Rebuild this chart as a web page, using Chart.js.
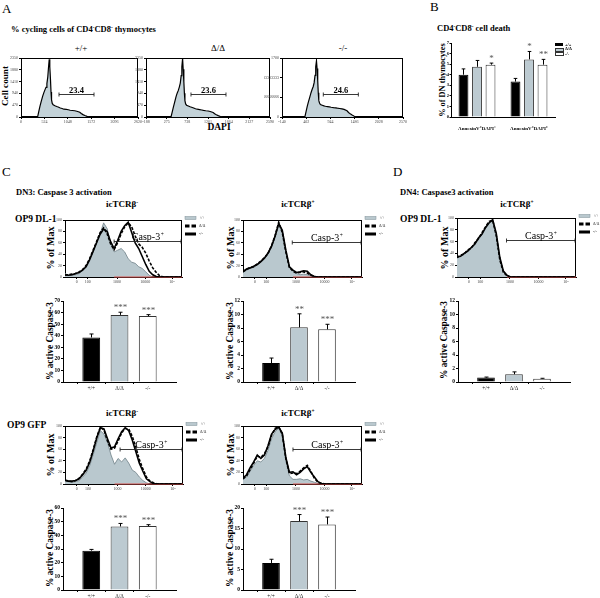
<!DOCTYPE html>
<html>
<head>
<meta charset="utf-8">
<script src="https://cdn.jsdelivr.net/npm/chart.js@4.4.0/dist/chart.umd.min.js"></script>
<style>
body{margin:0;background:#fff;width:600px;height:598px;position:relative;overflow:hidden;font-family:"Liberation Serif","Times New Roman",serif;color:#000}
canvas{position:absolute}
.t{position:absolute;white-space:nowrap;line-height:1}
.b{font-weight:bold}
.c{transform:translateX(-50%)}
.r{transform:translate(-50%,-50%) rotate(-90deg)}
sup{font-size:60%;vertical-align:0.5em;line-height:0}
</style>
</head>
<body>
<!-- panel A -->
<div class="t" style="left:2px;top:2px;font-size:13px">A</div>
<div class="t b" style="left:11px;top:25px;font-size:8.5px">% cycling cells of CD4<sup>-</sup>CD8<sup>-</sup> thymocytes</div>
<div class="t c" style="left:81px;top:44px;font-size:9px">+/+</div>
<div class="t c" style="left:218px;top:44px;font-size:9px">Δ/Δ</div>
<div class="t c" style="left:343px;top:44px;font-size:9px">-/-</div>
<div class="t b r" style="left:6px;top:86px;font-size:9.2px">Cell count</div>
<div class="t b c" style="left:219px;top:123px;font-size:9.5px">DAPI</div>
<!-- panel B -->
<div class="t" style="left:430px;top:0px;font-size:13px">B</div>
<div class="t b" style="left:437px;top:24px;font-size:8.5px">CD4<sup>-</sup>CD8<sup>-</sup> cell death</div>
<div class="t b r" style="left:443px;top:80px;font-size:8.3px">% of DN thymocytes</div>
<!-- panel C -->
<div class="t" style="left:2px;top:165px;font-size:13px">C</div>
<div class="t b" style="left:16px;top:188px;font-size:8.5px">DN3: Caspase 3 activation</div>
<div class="t b c" style="left:122px;top:200px;font-size:9px">icTCRβ<sup>-</sup></div>
<div class="t b c" style="left:298px;top:200px;font-size:9px">icTCRβ<sup>+</sup></div>
<div class="t b" style="left:15px;top:215px;font-size:9.5px">OP9 DL-1</div>
<div class="t b r" style="left:51px;top:248px;font-size:10px">% of Max</div>
<div class="t b r" style="left:231px;top:248px;font-size:10px">% of Max</div>
<div class="t b r" style="left:51px;top:341px;font-size:9.4px">% active Caspase-3</div>
<div class="t b r" style="left:231px;top:341px;font-size:9.4px">% active Caspase-3</div>
<div class="t b c" style="left:122px;top:409px;font-size:9px">icTCRβ<sup>-</sup></div>
<div class="t b c" style="left:298px;top:409px;font-size:9px">icTCRβ<sup>+</sup></div>
<div class="t b" style="left:7px;top:421px;font-size:9.5px">OP9 GFP</div>
<div class="t b r" style="left:51px;top:455px;font-size:10px">% of Max</div>
<div class="t b r" style="left:231px;top:455px;font-size:10px">% of Max</div>
<div class="t b r" style="left:51px;top:548px;font-size:9.4px">% active Caspase-3</div>
<div class="t b r" style="left:231px;top:548px;font-size:9.4px">% active Caspase-3</div>
<!-- panel D -->
<div class="t" style="left:393px;top:165px;font-size:13px">D</div>
<div class="t b" style="left:400px;top:188px;font-size:8.5px">DN4: Caspase3 activation</div>
<div class="t b c" style="left:517px;top:200px;font-size:9px">icTCRβ<sup>+</sup></div>
<div class="t b" style="left:400px;top:215px;font-size:9.5px">OP9 DL-1</div>
<div class="t b r" style="left:445px;top:248px;font-size:10px">% of Max</div>
<div class="t b r" style="left:445px;top:340px;font-size:9.4px">% active Caspase-3</div>

<script>
const F = '"Liberation Serif", "Times New Roman", serif';
const FILL = '#b9c8ce';
const GREY_BAR = '#bccad1';

const genotypes = ['+/+', 'Δ/Δ', '-/-'];

// A: DAPI histograms (cell count per DAPI channel)
const dapiX = [0, 372, 400, 424, 450, 484, 510, 536, 560, 580, 600, 615, 632, 645, 660, 672, 684, 700, 720, 760, 800, 832, 880, 920, 960, 1014, 1060, 1100, 1150, 1204, 1250, 1316, 1350, 1388, 1430, 1479, 1534, 2700];
const dapiWt = [0, 0, 230, 420, 600, 820, 960, 1080, 1180, 1330, 1600, 1950, 2300, 2000, 1500, 1000, 680, 540, 490, 450, 420, 400, 360, 340, 310, 300, 290, 270, 260, 250, 230, 190, 140, 95, 60, 25, 0, 0];
const dapiDd = [0, 0, 200, 380, 560, 800, 950, 1060, 1200, 1350, 1650, 2000, 2330, 1900, 1400, 950, 650, 520, 470, 440, 410, 390, 360, 330, 310, 295, 280, 265, 250, 240, 220, 180, 130, 90, 55, 20, 0, 0];
const dapiKo = [0, 0, 160, 300, 430, 580, 700, 800, 880, 990, 1200, 1450, 1620, 1400, 1050, 700, 480, 400, 360, 340, 320, 310, 300, 290, 280, 270, 265, 255, 245, 235, 220, 180, 130, 90, 55, 20, 0, 0];
const cyclingPct = ['23.4', '23.6', '24.6'];
const cyclingGateStart = [851, 820, 785];
const cyclingGateEnd = [1635, 1604, 1570];
const cyclingGateLevel = [905, 905, 654];

// B: cell death
const annexLabels = ['AnnexinV⁺DAPI⁻', 'AnnexinV⁺DAPI⁺'];
const deathWt = [4.0, 3.35];
const deathDd = [4.75, 5.45];
const deathKo = [4.95, 4.95];
const deathWtErr = [0.55, 0.3];
const deathDdErr = [0.6, 0.75];
const deathKoErr = [0.15, 0.5];
const deathWtStars = ['', ''];
const deathDdStars = ['', '*'];
const deathKoStars = ['*', '**'];

// C/D: Caspase-3 histograms (% of max per fluorescence channel)
const chanGrid = [0, 3, 6, 9, 12, 15, 18, 21, 24, 27, 30, 33, 36, 39, 42, 45, 48, 51, 54, 57, 60, 63, 66, 69, 72, 75, 78, 81, 84, 87, 90, 93, 96, 99];
const logTickChan = [10, 19.5, 44.5, 68.5, 91.5];
const logTickText = ['0', '100', '1000', '10000', '10⁵'];
const isoChan = [42, 100];
const isoVal = [0, 0];

const dl1NegWt = [6, 3, 3, 4, 6, 11, 19, 32, 44, 62, 76, 95, 85, 59, 44, 47, 50, 44, 32, 26, 24, 18, 15, 9, 3, 0, 0, 0, 0, 0, 0, 0, 0, 0];
const dl1NegDd = [3, 4, 5, 6, 9, 13, 20, 32, 47, 62, 78, 86, 76, 58, 48, 60, 76, 88, 95, 88, 72, 58, 52, 42, 28, 16, 8, 2, 0, 0, 0, 0, 0, 0];
const dl1NegKo = [4, 3, 4, 6, 8, 12, 18, 30, 45, 60, 75, 84, 80, 62, 50, 64, 80, 90, 96, 78, 60, 50, 36, 22, 10, 4, 1, 0, 0, 0, 0, 0, 0, 0];

const dl1PosWt = [8, 12, 15, 17, 22, 26, 32, 40, 52, 70, 92, 80, 45, 16, 10, 6, 4, 5, 4, 2, 1, 0, 0, 0, 0, 0, 0, 0, 0, 0, 0, 0, 0, 0];
const dl1PosDd = [10, 13, 17, 18, 23, 28, 34, 41, 55, 73, 96, 78, 44, 17, 10, 7, 8, 9, 7, 3, 1, 0, 0, 0, 0, 0, 0, 0, 0, 0, 0, 0, 0, 0];
const dl1PosKo = [9, 14, 16, 19, 22, 27, 33, 42, 54, 72, 94, 82, 47, 18, 12, 8, 9, 11, 10, 4, 1, 0, 0, 0, 0, 0, 0, 0, 0, 0, 0, 0, 0, 0];

const gfpNegWt = [6, 4, 3, 4, 6, 12, 19, 32, 51, 72, 92, 86, 72, 50, 34, 44, 38, 45, 36, 24, 20, 12, 6, 2, 0, 0, 0, 0, 0, 0, 0, 0, 0, 0];
const gfpNegDd = [6, 5, 4, 6, 10, 17, 26, 40, 60, 82, 98, 93, 74, 60, 62, 74, 88, 96, 95, 82, 64, 42, 26, 12, 5, 2, 0, 0, 0, 0, 0, 0, 0, 0];
const gfpNegKo = [7, 5, 5, 6, 9, 16, 24, 38, 58, 80, 97, 95, 78, 62, 64, 78, 90, 97, 92, 76, 56, 36, 22, 9, 4, 1, 0, 0, 0, 0, 0, 0, 0, 0];

const gfpPosWt = [8, 12, 22, 32, 40, 38, 44, 58, 78, 90, 96, 84, 40, 14, 8, 8, 9, 7, 8, 5, 3, 1, 0, 0, 0, 0, 0, 0, 0, 0, 0, 0, 0, 0];
const gfpPosDd = [9, 14, 25, 36, 48, 46, 52, 64, 84, 96, 99, 86, 44, 18, 19, 18, 22, 28, 32, 22, 10, 3, 1, 0, 0, 0, 0, 0, 0, 0, 0, 0, 0, 0];
const gfpPosKo = [10, 16, 28, 38, 50, 44, 50, 66, 86, 94, 98, 88, 46, 20, 21, 16, 20, 26, 30, 20, 12, 4, 1, 0, 0, 0, 0, 0, 0, 0, 0, 0, 0, 0];

const dn4Wt = [32, 36, 38, 43, 48, 55, 63, 72, 82, 91, 95, 72, 30, 9, 2, 0, 0, 0, 0, 0, 0, 0, 0, 0, 0, 0, 0, 0, 0, 0, 0, 0, 0, 0];
const dn4Dd = [33, 37, 39, 46, 49, 58, 65, 75, 85, 94, 96, 70, 29, 8, 2, 0, 0, 0, 0, 0, 0, 0, 0, 0, 0, 0, 0, 0, 0, 0, 0, 0, 0, 0];
const dn4Ko = [34, 35, 40, 44, 50, 56, 66, 73, 84, 92, 97, 74, 33, 10, 3, 0, 0, 0, 0, 0, 0, 0, 0, 0, 0, 0, 0, 0, 0, 0, 0, 0, 0, 0];

// Casp-3+ gates: [start channel, end channel, level %]
const gateDl1Neg = [42, 100, 64];
const gateDl1Pos = [41.4, 100, 62];
const gateGfpNeg = [46.7, 100, 61];
const gateGfpPos = [42, 100, 60];
const gateDn4 = [41.6, 100, 62];

// active caspase-3 bars
const dl1NegCasp = [38.5, 58, 57];
const dl1NegErr = [3, 2.3, 1.2];
const dl1NegStars = ['', '***', '***'];
const dl1PosCasp = [2.8, 8.1, 7.8];
const dl1PosErr = [0.75, 2, 0.75];
const dl1PosStars = ['', '**', '***'];
const gfpNegCasp = [28.8, 46.5, 46.8];
const gfpNegErr = [0.9, 2.2, 1];
const gfpNegStars = ['', '***', '***'];
const gfpPosCasp = [6.6, 16.8, 16.0];
const gfpPosErr = [0.9, 1.6, 1.8];
const gfpPosStars = ['', '***', '***'];
const dn4Casp = [0.65, 1.15, 0.5];
const dn4Err = [0.08, 0.35, 0.05];
const dn4Stars = ['', '', ''];

const extras = {};

const histExtras = {
    id: 'histExtras',
    beforeDatasetsDraw(chart) {
        const a = chart.chartArea, ctx = chart.ctx;
        ctx.save();
        ctx.strokeStyle = '#000';
        ctx.lineWidth = 1;
        ctx.strokeRect(a.left + 0.5, a.top + 0.5, a.right - a.left - 1, a.bottom - a.top - 1);
        ctx.restore();
    },
    afterDatasetsDraw(chart) {
        const o = extras[chart.canvas.id];
        if (!o) return;
        const a = chart.chartArea, ctx = chart.ctx, xs = chart.scales.x, ys = chart.scales.y;
        ctx.save();
        if (o.gate) {
            const x1 = xs.getPixelForValue(o.gate[0]);
            const x2 = Math.min(xs.getPixelForValue(o.gate[1]), a.right - 1);
            const y = Math.round(ys.getPixelForValue(o.gate[2])) + 0.5;
            ctx.strokeStyle = '#222';
            ctx.lineWidth = 0.9;
            ctx.beginPath();
            ctx.moveTo(x1, y); ctx.lineTo(x2, y);
            ctx.moveTo(x1, y - 2); ctx.lineTo(x1, y + 2);
            ctx.moveTo(x2, y - 2); ctx.lineTo(x2, y + 2);
            ctx.stroke();
            ctx.fillStyle = '#000';
            ctx.textBaseline = 'alphabetic';
            ctx.font = o.labelFont;
            const w = ctx.measureText(o.label).width;
            let supW = 0;
            if (o.sup) { ctx.font = o.supFont; supW = ctx.measureText(o.sup).width; }
            const left = (x1 + x2) / 2 + (o.shift || 0) - (w + supW) / 2;
            ctx.font = o.labelFont;
            ctx.fillText(o.label, left, y - 2);
            if (o.sup) { ctx.font = o.supFont; ctx.fillText(o.sup, left + w + 0.5, y - 6); }
        }
        if (o.legend) {
            const lx = a.right + 3;
            const rows = [a.top - 2, a.top + 6, a.top + 14];
            ctx.fillStyle = FILL;
            ctx.fillRect(lx, rows[0] - 1.5, 11, 3);
            ctx.strokeStyle = '#7f9098';
            ctx.lineWidth = 0.5;
            ctx.strokeRect(lx, rows[0] - 1.5, 11, 3);
            ctx.fillStyle = '#000';
            ctx.fillRect(lx, rows[1] - 1.5, 4.5, 3);
            ctx.fillRect(lx + 6.5, rows[1] - 1.5, 4.5, 3);
            ctx.fillRect(lx, rows[2] - 1.5, 11, 3);
            ctx.font = '4px ' + F;
            ctx.fillStyle = '#333';
            ctx.textBaseline = 'middle';
            genotypes.forEach((g, i) => ctx.fillText(g, lx + 14, rows[i]));
        }
        ctx.restore();
    }
};

const barExtras = {
    id: 'barExtras',
    afterDatasetsDraw(chart) {
        const o = extras[chart.canvas.id];
        if (!o) return;
        const ctx = chart.ctx, ys = chart.scales.y;
        ctx.save();
        chart.data.datasets.forEach((ds, di) => {
            chart.getDatasetMeta(di).data.forEach((bar, i) => {
                const v = ds.data[i];
                if (v == null) return;
                const e = o.errors[di][i], s = o.stars[di][i];
                const yTop = ys.getPixelForValue(v + e);
                const x = Math.round(bar.x) + 0.5;
                ctx.strokeStyle = '#000';
                ctx.lineWidth = 1;
                ctx.beginPath();
                ctx.moveTo(x, bar.y); ctx.lineTo(x, yTop);
                ctx.moveTo(x - o.cap, yTop); ctx.lineTo(x + o.cap, yTop);
                ctx.stroke();
                if (s) {
                    ctx.font = o.starFont;
                    ctx.fillStyle = '#555';
                    ctx.textAlign = 'center';
                    ctx.textBaseline = 'alphabetic';
                    ctx.fillText(s, x, yTop - 2);
                }
            });
        });
        ctx.restore();
    }
};

function pts(xs, ys) {
    return xs.map((x, i) => ({ x: x, y: ys[i] }));
}

function mount(id, box, pad) {
    const cv = document.createElement('canvas');
    cv.id = id;
    cv.width = box[2] - box[0] + pad.l + pad.r;
    cv.height = box[3] - box[1] + pad.t + pad.b;
    cv.style.left = (box[0] - pad.l) + 'px';
    cv.style.top = (box[1] - pad.t) + 'px';
    document.body.appendChild(cv);
    return cv;
}

// tiny FACS-style axis, extra settings merged in without losing the font
function tinyAxis(pad, isX, cfg) {
    const axis = {
        type: 'linear',
        grid: { drawOnChartArea: false, drawTicks: true, tickLength: 2, color: '#000' },
        border: { display: true, color: '#000', width: 1 },
        ticks: { font: { size: 4, family: F }, color: '#444', padding: 1, maxRotation: 0, autoSkip: false, callback: (v) => String(v) },
        afterFit: isX ? (s) => { s.height = pad.b; } : (s) => { s.width = pad.l; }
    };
    Object.keys(cfg).forEach(k => {
        if (k === 'ticks') Object.assign(axis.ticks, cfg.ticks);
        else axis[k] = cfg[k];
    });
    return axis;
}

function histChart(id, box, xCfg, yCfg, datasets, extra) {
    const pad = { l: 18, t: 10, r: 30, b: 10 };
    const cv = mount(id, box, pad);
    extras[id] = extra;
    return new Chart(cv, {
        type: 'line',
        data: { datasets: datasets },
        options: {
            responsive: false,
            animation: false,
            devicePixelRatio: 1,
            layout: { padding: { left: 0, top: pad.t, right: pad.r, bottom: 0 } },
            elements: { point: { radius: 0 }, line: { tension: 0 } },
            scales: { x: tinyAxis(pad, true, xCfg), y: tinyAxis(pad, false, yCfg) },
            plugins: { legend: { display: false }, tooltip: { enabled: false } }
        },
        plugins: [histExtras]
    });
}

function caspDatasets(wt, dd, ko) {
    return [
        { label: '-/-', data: pts(chanGrid, ko), borderColor: '#000', borderWidth: 1.6, fill: false, order: 0 },
        { label: 'Δ/Δ', data: pts(chanGrid, dd), borderColor: '#000', borderWidth: 1.6, borderDash: [3, 1.5], fill: false, order: 1 },
        { label: 'iso', data: pts(isoChan, isoVal), borderColor: '#d9534f', borderWidth: 1.2, fill: false, clip: false, order: 2 },
        { label: '+/+', data: pts(chanGrid, wt), borderColor: '#6f8088', borderWidth: 0.8, backgroundColor: FILL, fill: 'origin', order: 3 }
    ];
}

function caspHist(id, box, wt, dd, ko, gate) {
    const xCfg = {
        min: 0, max: 100,
        afterBuildTicks: (s) => { s.ticks = logTickChan.map(v => ({ value: v })); },
        ticks: { callback: (v, i) => logTickText[i] }
    };
    const yCfg = { min: 0, max: 100, ticks: { stepSize: 20 } };
    histChart(id, box, xCfg, yCfg, caspDatasets(wt, dd, ko), {
        gate: gate, label: 'Casp-3', sup: '+',
        labelFont: '10px ' + F, supFont: '5.5px ' + F, legend: true
    });
}

function dapiHist(id, box, series, xMin, xMax, yMax, i) {
    histChart(id, box,
        { min: xMin, max: xMax, ticks: { stepSize: 500 } },
        { min: 0, max: yMax, ticks: { stepSize: 500 } },
        [{ label: genotypes[i], data: pts(dapiX, series), borderColor: '#000', borderWidth: 1.2, backgroundColor: '#c3d2d8', fill: 'origin' }],
        { gate: [cyclingGateStart[i], cyclingGateEnd[i], cyclingGateLevel[i]], label: cyclingPct[i], labelFont: 'bold 8.5px ' + F, legend: false });
}

function caspBars(id, box, vals, errs, stars, yMax, yStep) {
    const pad = { l: 20, t: 14, r: 8, b: 12 };
    const cv = mount(id, box, pad);
    extras[id] = { errors: [[null].concat(errs, [null])], stars: [[''].concat(stars, [''])], cap: 2, starFont: '9px ' + F };
    new Chart(cv, {
        type: 'bar',
        data: {
            labels: [''].concat(genotypes, ['']),
            datasets: [{
                data: [null].concat(vals, [null]),
                backgroundColor: ['rgba(0,0,0,0)', '#000', GREY_BAR, '#fff', 'rgba(0,0,0,0)'],
                borderColor: ['rgba(0,0,0,0)', '#000', '#333', '#333', 'rgba(0,0,0,0)'],
                borderWidth: 1,
                categoryPercentage: 1,
                barPercentage: 0.63
            }]
        },
        options: {
            responsive: false,
            animation: false,
            devicePixelRatio: 1,
            layout: { padding: { left: 0, top: pad.t, right: pad.r, bottom: 0 } },
            scales: {
                x: {
                    type: 'category', offset: false,
                    grid: { drawOnChartArea: false, tickLength: 2, color: (c) => (c.index === 0 || c.index === 4) ? 'rgba(0,0,0,0)' : '#000' },
                    border: { color: '#000', width: 1 },
                    ticks: { font: { size: 5.5, family: F }, color: '#222', padding: 1, maxRotation: 0, autoSkip: false },
                    afterFit: (s) => { s.height = pad.b; }
                },
                y: {
                    min: 0, max: yMax,
                    grid: { drawOnChartArea: false, tickLength: 2, color: '#000' },
                    border: { color: '#000', width: 1 },
                    ticks: { stepSize: yStep, font: { size: 5.5, weight: 'bold', family: F }, color: '#000', padding: 1 },
                    afterFit: (s) => { s.width = pad.l; }
                }
            },
            plugins: { legend: { display: false }, tooltip: { enabled: false } }
        },
        plugins: [barExtras]
    });
}

// panel A
dapiHist('histA1', [21, 58, 138, 117], dapiWt, 0, 2620, 2350, 0);
dapiHist('histA2', [146, 58, 270, 117], dapiDd, -188, 2590, 2350, 1);
dapiHist('histA3', [282, 58, 403, 117], dapiKo, -140, 2570, 1700, 2);

// panel B
(function () {
    const pad = { l: 10, t: 14, r: 8, b: 16 };
    const box = [451, 43, 555, 117];
    const cv = mount('barsB', box, pad);
    extras['barsB'] = {
        errors: [deathWtErr, deathDdErr, deathKoErr],
        stars: [deathWtStars, deathDdStars, deathKoStars],
        cap: 1.8, starFont: '9px ' + F
    };
    const vals = [deathWt, deathDd, deathKo];
    const fills = ['#000', GREY_BAR, '#fff'];
    const borders = ['#000', '#333', '#333'];
    new Chart(cv, {
        type: 'bar',
        data: {
            labels: annexLabels,
            datasets: genotypes.map((g, i) => ({
                label: g, data: vals[i], backgroundColor: fills[i], borderColor: borders[i], borderWidth: 1,
                categoryPercentage: 0.78, barPercentage: 0.73
            }))
        },
        options: {
            responsive: false,
            animation: false,
            devicePixelRatio: 1,
            layout: { padding: { left: 0, top: pad.t, right: pad.r, bottom: 0 } },
            scales: {
                x: {
                    grid: { display: false },
                    border: { color: '#000', width: 1 },
                    ticks: { font: { size: 5, weight: 'bold', family: F }, color: '#000', padding: 1, maxRotation: 0, autoSkip: false },
                    afterFit: (s) => { s.height = pad.b; }
                },
                y: {
                    min: 0, max: 7,
                    grid: { drawOnChartArea: false, tickLength: 1.5, color: '#000' },
                    border: { color: '#000', width: 1 },
                    ticks: { stepSize: 1, font: { size: 4.5, weight: 'bold', family: F }, color: '#000', padding: 0.5 },
                    afterFit: (s) => { s.width = pad.l; }
                }
            },
            plugins: { legend: { display: false }, tooltip: { enabled: false } }
        },
        plugins: [barExtras]
    });
})();

// panel C
caspHist('histC1', [65, 220, 182, 277], dl1NegWt, dl1NegDd, dl1NegKo, gateDl1Neg);
caspHist('histC2', [243, 220, 362, 277], dl1PosWt, dl1PosDd, dl1PosKo, gateDl1Pos);
caspBars('barsC1', [63, 301, 176, 382], dl1NegCasp, dl1NegErr, dl1NegStars, 70, 10);
caspBars('barsC2', [243, 301, 355, 382], dl1PosCasp, dl1PosErr, dl1PosStars, 12, 2);
caspHist('histC3', [65, 426, 183, 484], gfpNegWt, gfpNegDd, gfpNegKo, gateGfpNeg);
caspHist('histC4', [243, 426, 362, 484], gfpPosWt, gfpPosDd, gfpPosKo, gateGfpPos);
caspBars('barsC3', [63, 508, 176, 590], gfpNegCasp, gfpNegErr, gfpNegStars, 60, 10);
caspBars('barsC4', [243, 508, 355, 590], gfpPosCasp, gfpPosErr, gfpPosStars, 20, 5);

// panel D
caspHist('histD', [457, 218, 576, 277], dn4Wt, dn4Dd, dn4Ko, gateDn4);
caspBars('barsD', [458, 301, 570, 382], dn4Casp, dn4Err, dn4Stars, 12, 2);
</script>
<!-- B legend -->
<div style="position:absolute;left:555px;top:43px;width:8px;height:3px;background:#000"></div>
<div style="position:absolute;left:555px;top:47.5px;width:7px;height:2px;background:#bccad1;border:0.6px solid #333"></div>
<div style="position:absolute;left:555px;top:52px;width:7px;height:2px;background:#fff;border:0.6px solid #333"></div>
<div class="t b" style="left:565px;top:42.5px;font-size:4.5px">+/+</div>
<div class="t b" style="left:565px;top:47px;font-size:4.5px">Δ/Δ</div>
<div class="t b" style="left:565px;top:51.5px;font-size:4.5px">-/-</div>
</body>
</html>
